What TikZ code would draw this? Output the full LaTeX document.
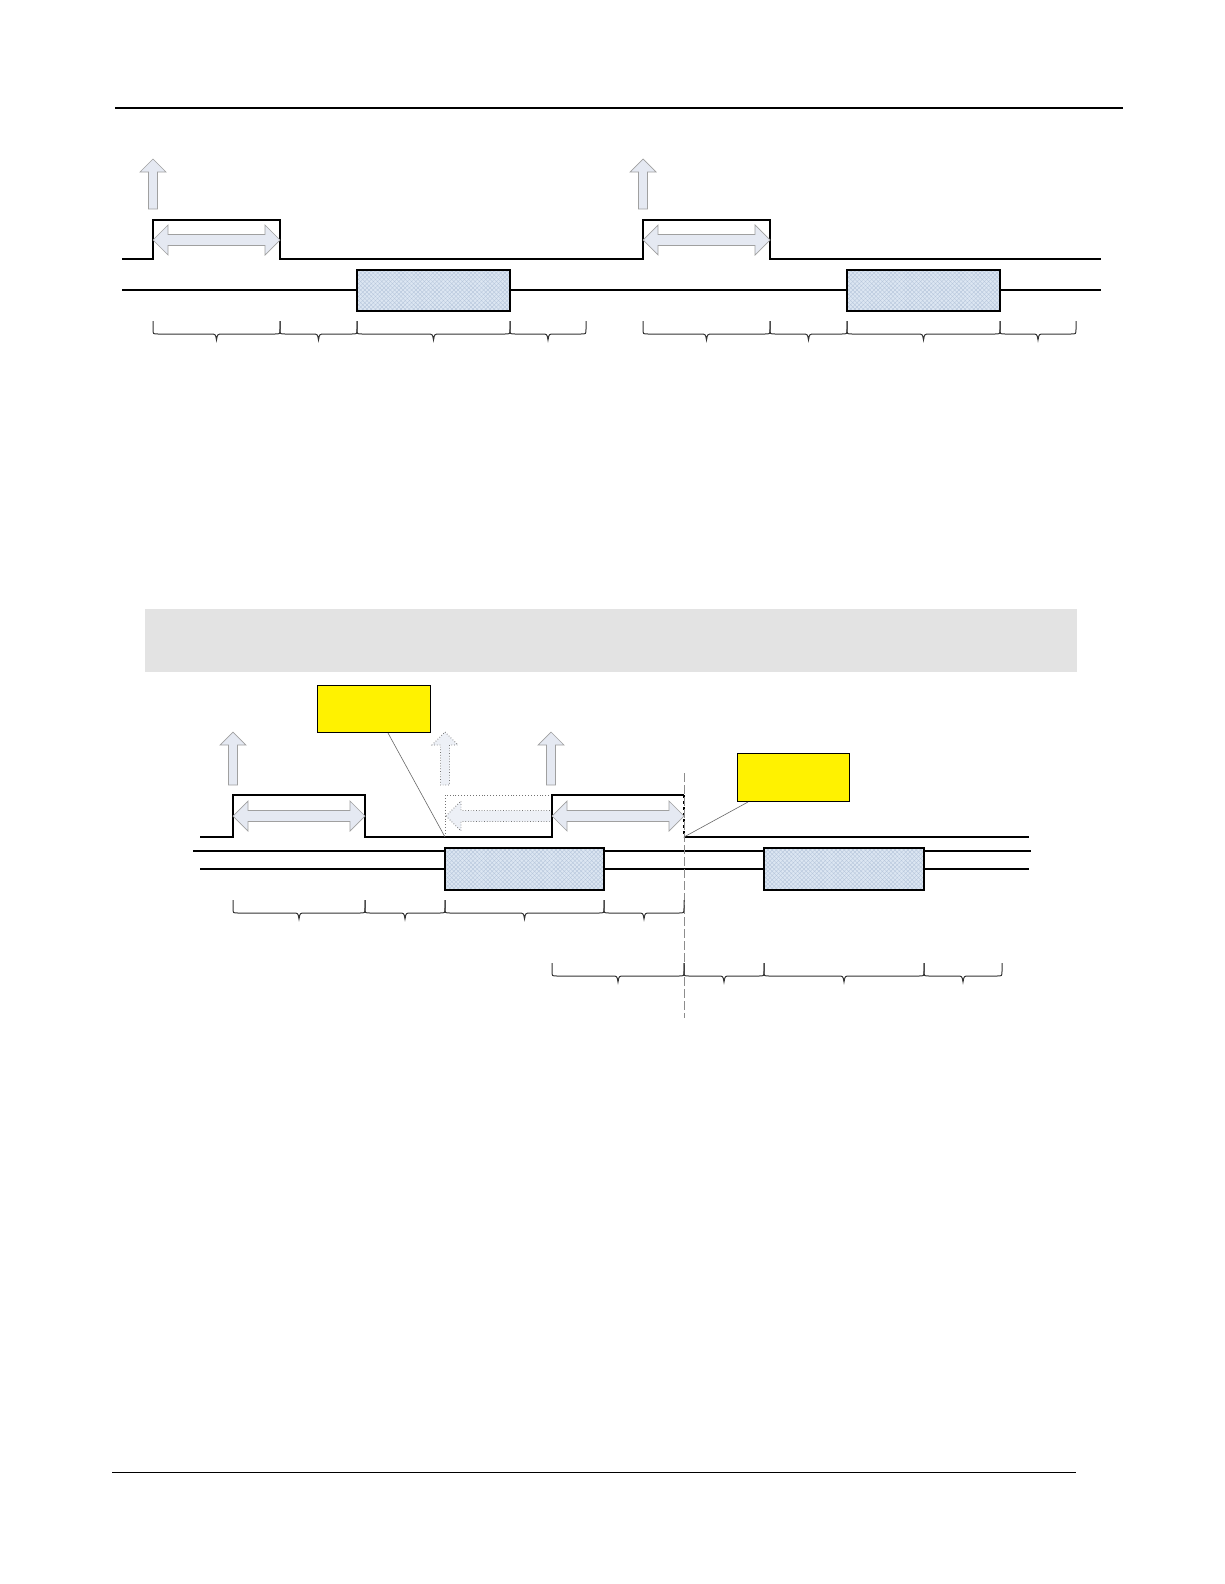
\documentclass[tikz,border=0pt]{standalone}
\usetikzlibrary{patterns.meta}
\definecolor{arrfill}{RGB}{229,233,242}
\definecolor{arrline}{RGB}{160,160,160}
\definecolor{boxblue}{RGB}{220,230,242}
\definecolor{hatch}{RGB}{180,196,218}
\definecolor{band}{RGB}{227,227,227}
\newcommand{\UpArr}[4][]{%
  \draw[arrowsty,#1] (#2,#3) -- ({#2+13},{#3+13}) -- ({#2+4.5},{#3+13}) -- ({#2+4.5},#4)
    -- ({#2-4.5},#4) -- ({#2-4.5},{#3+13}) -- ({#2-13},{#3+13}) -- cycle;}
\newcommand{\DblArr}[4][]{%
  \draw[arrowsty,#1] (#2,#4) -- ({#2+15},{#4-15}) -- ({#2+15},{#4-5.5}) -- ({#3-15},{#4-5.5})
    -- ({#3-15},{#4-15}) -- (#3,#4) -- ({#3-15},{#4+15}) -- ({#3-15},{#4+5.5})
    -- ({#2+15},{#4+5.5}) -- ({#2+15},{#4+15}) -- cycle;}
\newcommand{\LeftArr}[4][]{%
  \draw[arrowsty,#1] (#2,#4) -- ({#2+15},{#4-15}) -- ({#2+15},{#4-5.5}) -- (#3,{#4-5.5})
    -- (#3,{#4+5.5}) -- ({#2+15},{#4+5.5}) -- ({#2+15},{#4+15}) -- cycle;}
\newcommand{\Brc}[3]{%
  \draw[bracesty] (#1,#3) -- (#1,{#3+8}) .. controls (#1,{#3+13}) .. ({#1+5},{#3+13})
    -- ({(#1+#2)/2-6},{#3+13}) .. controls ({(#1+#2)/2-1},{#3+13}) .. ({(#1+#2)/2},{#3+19})
    .. controls ({(#1+#2)/2+1},{#3+13}) .. ({(#1+#2)/2+6},{#3+13})
    -- ({#2-5},{#3+13}) .. controls (#2,{#3+13}) .. (#2,{#3+8}) -- (#2,#3);}
\begin{document}
\begin{tikzpicture}[x=1pt,y=-1pt,
  arrowsty/.style={fill=arrfill,draw=arrline,line width=0.7pt,line join=miter},
  dotarrow/.style={fill=arrfill!70,draw=black!55,dotted,line width=0.9pt},
  bracesty/.style={draw=black!80,line width=1pt},
  sig/.style={draw=black,line width=1.2pt},
  hatchbox/.style={draw=black,line width=1.2pt,
    preaction={fill=boxblue},
    preaction={pattern={Lines[angle=45,distance=3pt,line width=0.35pt]},pattern color=hatch},
    preaction={pattern={Lines[angle=-45,distance=3pt,line width=0.35pt]},pattern color=hatch}},
  note/.style={draw=black,line width=1pt,fill=yellow,minimum width=113pt,minimum height=47pt,inner sep=0pt},
  callout/.style={draw=black!60,line width=0.6pt}]
\useasboundingbox (0,0) rectangle (1224,1584);
% page rules
\draw[line width=2.2pt] (115,108) -- (1123,108);
\draw[line width=1pt] (112,1472) -- (1076,1472);

% ===== top diagram =====
\UpArr{153}{159}{209}
\UpArr{643}{159}{209}
\draw[sig] (122,259) -- (153,259) -- (153,220) -- (280,220) -- (280,259) -- (643,259)
  -- (643,220) -- (770,220) -- (770,259) -- (1101,259);
\DblArr{153}{280}{240}
\DblArr{643}{770}{240}
\draw[sig] (122,290) -- (1101,290);
\path[hatchbox] (357,270) rectangle (510,311);
\path[hatchbox] (847,270) rectangle (1000,311);
\Brc{153}{280}{321}\Brc{280}{357}{321}\Brc{357}{510}{321}\Brc{510}{586}{321}
\Brc{643}{770}{321}\Brc{770}{847}{321}\Brc{847}{1000}{321}\Brc{1000}{1076}{321}

% ===== grey band =====
\node[fill=band,draw=none,minimum width=932pt,minimum height=63pt,inner sep=0pt,anchor=north west] (band) at (145,609) {};

% ===== bottom diagram =====
\draw[sig] (193,851) -- (1031,851);
\draw[sig] (200,869) -- (1029,869);
\path[hatchbox] (445,848) rectangle (604,890);
\path[hatchbox] (764,848) rectangle (924,890);
\draw[draw=black!55,dotted,line width=0.9pt] (552,795) -- (445,795) -- (445,837);
\LeftArr[dotarrow]{446}{552}{816}
\UpArr{233}{732}{785}
\UpArr[dotarrow]{445}{732}{785}
\UpArr{551}{732}{785}
\draw[sig] (200,837) -- (233,837) -- (233,795) -- (365,795) -- (365,837) -- (552,837)
  -- (552,795) -- (684,795);
\draw[sig,dashed] (684,795) -- (684,837);
\draw[sig] (684,837) -- (1029,837);
\DblArr{233}{365}{816}
\DblArr{552}{684}{816}
\draw[draw=black!45,line width=0.8pt,dash pattern=on 9pt off 3pt] (684,773) -- (684,1018);
\Brc{233}{365}{900}\Brc{365}{445}{900}\Brc{445}{604}{900}\Brc{604}{684}{900}
\Brc{552}{684}{963}\Brc{684}{764}{963}\Brc{764}{924}{963}\Brc{924}{1002}{963}

\node[note,anchor=north west] (y1) at (317,685) {};
\node[note,anchor=north west,minimum width=112pt,minimum height=48pt] (y2) at (737,753) {};
\coordinate (c1) at (445,837);
\coordinate (c2) at (684,837);
\draw[callout] ([xshift=14pt]y1.south) -- (c1);
\draw[callout] ([xshift=11pt]y2.south west) -- (c2);
\end{tikzpicture}
\end{document}
